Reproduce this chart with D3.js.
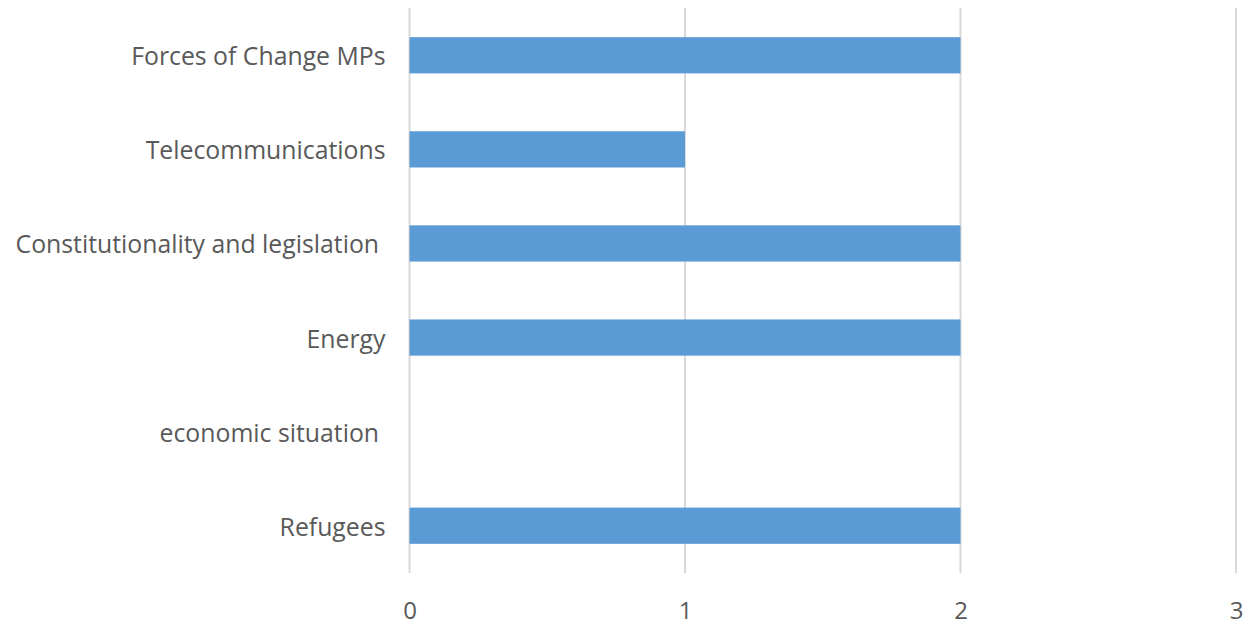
<!DOCTYPE html>
<html>
<head>
<meta charset="utf-8">
<script src="https://cdn.jsdelivr.net/npm/d3@7"></script>
<style>
  html, body { margin: 0; padding: 0; background: #ffffff; }
  svg text { font-family: "Open Sans", Lato, sans-serif; fill: #595959; white-space: pre; }
</style>
</head>
<body>
<svg id="chart" width="1251" height="625"></svg>
<script>
// Number of items per topic
const categories = [
  "Forces of Change MPs",
  "Telecommunications",
  "Constitutionality and legislation ",
  "Energy",
  "economic situation ",
  "Refugees"
];
const values = [2, 1, 2, 2, 0, 2];
const xTicks = [0, 1, 2, 3];

const svg = d3.select("#chart");
const margin = { top: 8, right: 15, bottom: 52, left: 409.5 };
const W = 1251, H = 625;

const x = d3.scaleLinear()
  .domain([0, 3])
  .range([margin.left, W - margin.right]);

const y = d3.scaleBand()
  .domain(categories)
  .range([margin.top, H - margin.bottom])
  .paddingInner(0.615)
  .paddingOuter(0.31);

// vertical gridlines
svg.append("g")
  .selectAll("line")
  .data(xTicks)
  .join("line")
  .attr("x1", d => x(d))
  .attr("x2", d => x(d))
  .attr("y1", margin.top)
  .attr("y2", H - margin.bottom)
  .attr("stroke", "#d9d9d9")
  .attr("stroke-width", 2);

// bars
svg.append("g")
  .selectAll("rect")
  .data(categories.map((c, i) => ({ c, v: values[i] })))
  .join("rect")
  .attr("x", x(0))
  .attr("y", d => y(d.c))
  .attr("width", d => x(d.v) - x(0))
  .attr("height", y.bandwidth())
  .attr("fill", "#5b9bd5");

// x-axis tick labels
const xAxis = d3.axisBottom(x).tickValues(xTicks).tickFormat(d3.format("d")).tickSize(0).tickPadding(0);
const gx = svg.append("g")
  .attr("transform", `translate(0, ${H - margin.bottom})`)
  .call(xAxis);
gx.select(".domain").remove();
gx.selectAll("text")
  .attr("dy", null)
  .attr("y", 36)
  .attr("dominant-baseline", "central")
  .style("font-size", "24px");

// category labels
const yAxis = d3.axisLeft(y).tickSize(0).tickPadding(24);
const gy = svg.append("g")
  .attr("transform", `translate(${margin.left}, 0)`)
  .call(yAxis);
gy.select(".domain").remove();
gy.selectAll("text")
  .attr("dy", null)
  .attr("dominant-baseline", "central")
  .style("font-size", "24.8px");
</script>
</body>
</html>
